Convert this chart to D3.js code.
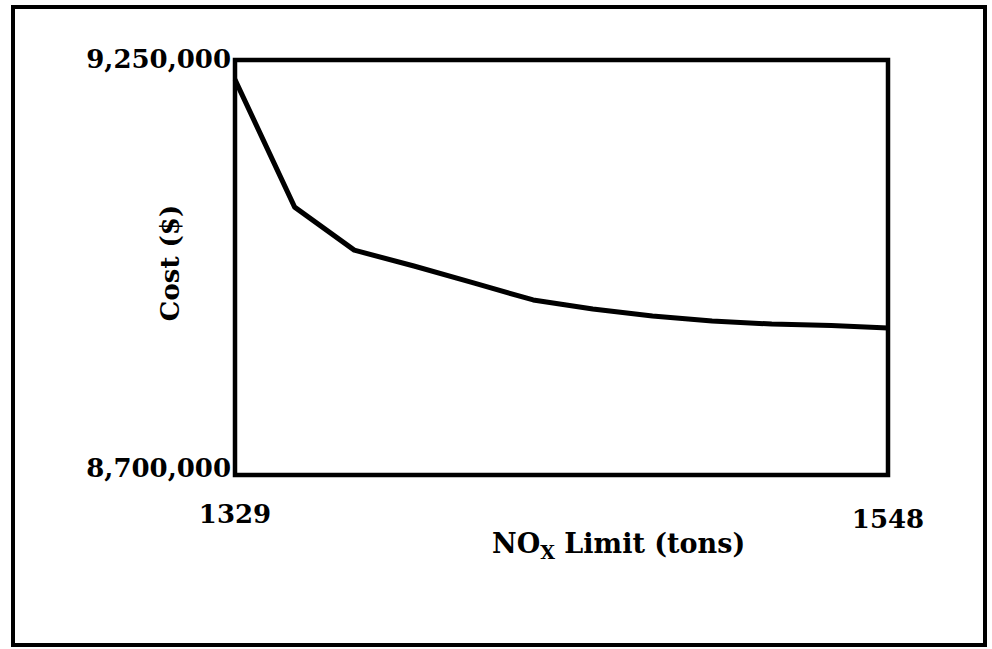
<!DOCTYPE html>
<html>
    <head>
        <meta charset="utf-8">
        <title>Cost vs NOx limit</title>
        <script src="https://d3js.org/d3.v7.min.js"></script>
        <style>
            body { margin: 0; background: #fff; }
            text { font-family: "DejaVu Serif", serif; font-weight: bold; fill: #000; }
        </style>
    </head>
    <body>
        <div id="my_dataviz"></div>

        <script>
            // data
            var noxLimit = [1329, 1349, 1369, 1389, 1409, 1429, 1449, 1469, 1489, 1509, 1529, 1548];
            var cost = [9224000, 9055000, 8998000, 8977000, 8954500, 8932000, 8920000, 8910700, 8904000, 8900000, 8898000, 8894800];
            var xTicks = [1329, 1548];
            var yTicks = [8700000, 9250000];

            var W = 992, H = 649;
            var margin = {top: 60, right: 104, bottom: 174, left: 235},
                width = W - margin.left - margin.right,
                height = H - margin.top - margin.bottom;

            var svg = d3.select("#my_dataviz")
              .append("svg")
                .attr("width", W)
                .attr("height", H);

            // outer frame
            svg.append("rect")
                .attr("x", 13).attr("y", 7)
                .attr("width", 972).attr("height", 638)
                .attr("fill", "none")
                .attr("stroke", "#000")
                .attr("stroke-width", 4);

            var g = svg.append("g")
                .attr("transform", "translate(" + margin.left + "," + margin.top + ")");

            var x = d3.scaleLinear()
                .domain([1329, 1548])
                .range([0, width]);

            var y = d3.scaleLinear()
                .domain([8700000, 9250000])
                .range([height, 0]);

            // plot box
            g.append("rect")
                .attr("width", width)
                .attr("height", height)
                .attr("fill", "none")
                .attr("stroke", "#000")
                .attr("stroke-width", 4.5);

            // y tick labels
            var fmt = d3.format(",");
            g.selectAll(".ylab")
              .data(yTicks)
              .enter()
              .append("text")
                .attr("x", -4)
                .attr("y", function (d) { return y(d); })
                .attr("dy", function (d, i) { return i == 0 ? 2 : 8; })
                .attr("text-anchor", "end")
                .style("font-size", "26px")
                .text(function (d) { return fmt(d); });

            // x tick labels
            g.selectAll(".xlab")
              .data(xTicks)
              .enter()
              .append("text")
                .attr("x", function (d) { return x(d); })
                .attr("y", height + 48)
                .attr("dy", function (d, i) { return i == 0 ? 0 : 5; })
                .attr("text-anchor", "middle")
                .style("font-size", "26px")
                .text(function (d) { return d; });

            // axis titles
            var xt = g.append("text")
                .attr("x", 257)
                .attr("y", height + 78)
                .style("font-size", "27px");
            xt.append("tspan").text("NO");
            xt.append("tspan").attr("dy", 6).style("font-size", "19px").text("X");
            xt.append("tspan").attr("dy", -6).text(" Limit (tons)");

            g.append("text")
                .attr("transform", "translate(-56," + 203 + ") rotate(-90)")
                .attr("text-anchor", "middle")
                .style("font-size", "26px")
                .text("Cost ($)");

            // the curve
            var pts = noxLimit.map(function (d, i) { return [d, cost[i]]; });
            g.append("path")
                .datum(pts)
                .attr("fill", "none")
                .attr("stroke", "#000")
                .attr("stroke-width", 5)
                .attr("stroke-linejoin", "round")
                .attr("d", d3.line()
                  .x(function (d) { return x(d[0]); })
                  .y(function (d) { return y(d[1]); }));
        </script>
    </body>
</html>
